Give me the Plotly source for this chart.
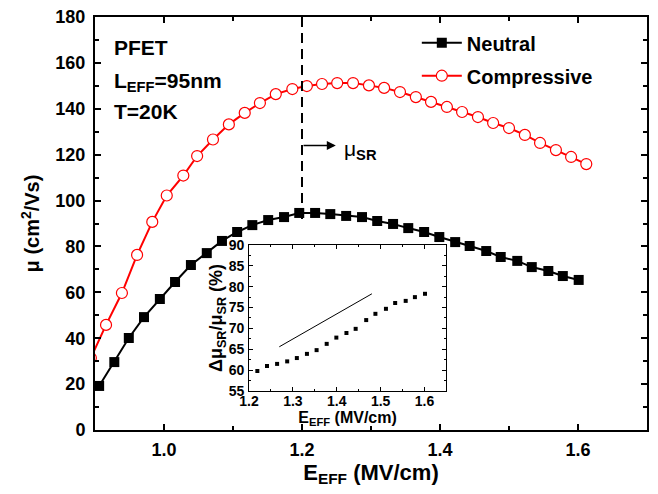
import plotly.graph_objects as go

# ---------------- data ----------------
e_neutral = [0.906, 0.928, 0.949, 0.971, 0.994, 1.016, 1.039, 1.062, 1.084, 1.106,
             1.128, 1.151, 1.174, 1.196, 1.219, 1.241, 1.264, 1.287, 1.309, 1.332,
             1.354, 1.377, 1.399, 1.422, 1.443, 1.467, 1.488, 1.512, 1.533, 1.557,
             1.578, 1.601]
mu_neutral = [19.2, 29.6, 40.1, 49.2, 57.1, 64.5, 71.9, 77.1, 82.4, 86.3,
              89.3, 91.5, 92.8, 94.6, 94.6, 94.1, 93.3, 92.8, 91.1, 89.8,
              88.0, 86.3, 84.1, 81.9, 80.2, 78.0, 75.4, 73.7, 71.0, 69.3,
              67.1, 65.4]

e_comp = [0.894, 0.916, 0.939, 0.961, 0.983, 1.004, 1.028, 1.048, 1.071, 1.094,
          1.117, 1.139, 1.162, 1.186, 1.207, 1.229, 1.251, 1.274, 1.297, 1.319,
          1.342, 1.365, 1.387, 1.410, 1.432, 1.455, 1.477, 1.500, 1.523, 1.545,
          1.568, 1.590, 1.612]
mu_comp = [31.4, 45.8, 59.7, 76.3, 90.7, 102.2, 110.9, 119.4, 126.6, 133.2,
           138.2, 142.5, 146.4, 148.6, 149.9, 150.8, 151.2, 151.2, 150.2, 149.1,
           147.3, 145.1, 143.0, 140.8, 138.6, 136.4, 133.8, 131.6, 128.6, 125.1,
           122.0, 119.0, 115.9]

e_inset = [1.219, 1.241, 1.264, 1.287, 1.309, 1.332, 1.354, 1.377, 1.399, 1.422,
           1.443, 1.467, 1.488, 1.512, 1.533, 1.557, 1.578, 1.601]
ratio_inset = [59.8, 61.0, 61.5, 62.1, 62.9, 63.9, 64.8, 66.3, 67.8, 68.9,
               69.9, 72.0, 73.5, 74.7, 76.1, 76.6, 77.5, 78.3]

guide_e = [1.269, 1.480]
guide_ratio = [65.6, 78.3]

x_ticks = [1.0, 1.2, 1.4, 1.6]
y_ticks = [0, 20, 40, 60, 80, 100, 120, 140, 160, 180]
inset_x_ticks = [1.2, 1.3, 1.4, 1.5, 1.6]
inset_y_ticks = [55, 60, 65, 70, 75, 80, 85, 90]

e_sr = 1.2
dash_top, dash_bottom = 180, 92
arrow_y = 124
arrow_end = 1.249

FONT = "Arial, Liberation Sans, sans-serif"

fig = go.Figure()

fig.add_trace(go.Scatter(
    x=e_neutral, y=mu_neutral, mode="lines+markers", name="<b>Neutral</b>",
    legendgroup="n",
    line=dict(color="black", width=2),
    marker=dict(symbol="square", size=10, color="black"),
))
fig.add_trace(go.Scatter(
    x=e_comp, y=mu_comp, mode="lines+markers", name="<b>Compressive</b>",
    legendgroup="c",
    line=dict(color="#ff0000", width=2),
    marker=dict(symbol="circle", size=11, color="white",
                line=dict(color="#ff0000", width=1.2)),
))

# vertical dashed line at E = 1.2
fig.add_trace(go.Scatter(
    x=[e_sr, e_sr], y=[dash_top, dash_bottom], mode="lines", showlegend=False,
    line=dict(color="black", width=2, dash="10px,6px"), hoverinfo="skip",
))

# inset
fig.add_trace(go.Scatter(
    x=e_inset, y=ratio_inset, mode="markers", showlegend=False,
    xaxis="x2", yaxis="y2",
    marker=dict(symbol="square", size=4, color="black"),
))
fig.add_trace(go.Scatter(
    x=guide_e, y=guide_ratio, mode="lines", showlegend=False,
    xaxis="x2", yaxis="y2",
    line=dict(color="black", width=1),
))

tickfont_main = dict(family=FONT, size=18, color="black", weight="bold")
tickfont_inset = dict(family=FONT, size=14, color="black", weight="bold")

fig.update_layout(
    width=650, height=486,
    margin=dict(l=87, r=11, t=9, b=64, autoexpand=False),
    paper_bgcolor="white", plot_bgcolor="white",
    font=dict(family=FONT, color="black"),
    showlegend=True,
    legend=dict(x=0.583, y=0.985, xanchor="left", yanchor="top",
                bgcolor="rgba(0,0,0,0)",
                font=dict(family=FONT, size=20, color="black"),
                itemwidth=40, tracegroupgap=4),
    xaxis=dict(
        range=[0.9, 1.7], tickvals=x_ticks, ticktext=[f"{v:.1f}" for v in x_ticks],
        ticks="inside", ticklen=6, tickwidth=2, tickcolor="black",
        minor=dict(dtick=0.1, tick0=1.0, ticks="inside", ticklen=4, tickwidth=2, tickcolor="black"),
        showline=True, linewidth=2, linecolor="black", mirror="allticks",
        showgrid=False, zeroline=False, tickfont=tickfont_main, automargin=False,
        ticklabelstandoff=2, ticklabeloverflow="allow",
        title=dict(text="<b>E<sub>EFF</sub> (MV/cm)</b>", font=dict(family=FONT, size=22),
                   standoff=0),
    ),
    yaxis=dict(
        range=[0, 180], tickvals=y_ticks, ticktext=[str(v) for v in y_ticks],
        ticks="inside", ticklen=6, tickwidth=2, tickcolor="black",
        minor=dict(dtick=10, ticks="inside", ticklen=4, tickwidth=2, tickcolor="black"),
        showline=True, linewidth=2, linecolor="black", mirror="allticks",
        showgrid=False, zeroline=False, tickfont=tickfont_main, automargin=False,
        ticklabelstandoff=4, ticklabeloverflow="allow",
        title=dict(text="<b>μ (cm<sup>2</sup>/Vs)</b>", font=dict(family=FONT, size=20),
                   standoff=10),
    ),
    xaxis2=dict(
        domain=[0.279, 0.636], anchor="y2", range=[1.2, 1.649],
        tickvals=inset_x_ticks, ticktext=[f"{v:.1f}" for v in inset_x_ticks],
        ticks="inside", ticklen=4, tickwidth=1, tickcolor="black",
        minor=dict(dtick=0.05, tick0=1.2, ticks="inside", ticklen=2, tickwidth=1, tickcolor="black"),
        showline=True, linewidth=1, linecolor="black", mirror="allticks",
        showgrid=False, zeroline=False, tickfont=tickfont_inset, automargin=False,
        ticklabelstandoff=-3, ticklabeloverflow="allow",
        title=dict(text="<b>E<sub>EFF</sub> (MV/cm)</b>", font=dict(family=FONT, size=16),
                   standoff=0),
    ),
    yaxis2=dict(
        domain=[0.0944, 0.448], anchor="x2", range=[55, 90],
        tickvals=inset_y_ticks, ticktext=[str(v) for v in inset_y_ticks],
        ticks="inside", ticklen=4, tickwidth=1, tickcolor="black",
        minor=dict(dtick=2.5, ticks="inside", ticklen=2, tickwidth=1, tickcolor="black"),
        showline=True, linewidth=1, linecolor="black", mirror="allticks",
        showgrid=False, zeroline=False, tickfont=tickfont_inset, automargin=False,
        ticklabelstandoff=1, ticklabeloverflow="allow",
        title=dict(text="<b>Δμ<sub>SR</sub>/μ<sub>SR</sub> (%)</b>", font=dict(family=FONT, size=18),
                   standoff=0),
    ),
)

txt_font = dict(family=FONT, size=21, color="black")
for text, yy in [("<b>PFET</b>", 0.925), ("<b>L<sub>EFF</sub>=95nm</b>", 0.843), ("<b>T=20K</b>", 0.772)]:
    fig.add_annotation(x=0.031, y=yy, xref="paper", yref="paper", text=text,
                       showarrow=False, xanchor="left", yanchor="middle", font=txt_font)

fig.add_annotation(x=arrow_end, y=arrow_y, ax=e_sr, ay=arrow_y, xref="x", yref="y",
                   axref="x", ayref="y", showarrow=True, arrowhead=2, arrowsize=1.2,
                   arrowwidth=1.5, arrowcolor="black", text="")
fig.add_annotation(x=1.258, y=arrow_y - 2, xref="x", yref="y", text="μ<b><sub>SR</sub></b>",
                   showarrow=False, xanchor="left", yanchor="middle",
                   font=dict(family=FONT, size=21, color="black"))

fig.write_html("out.html")
